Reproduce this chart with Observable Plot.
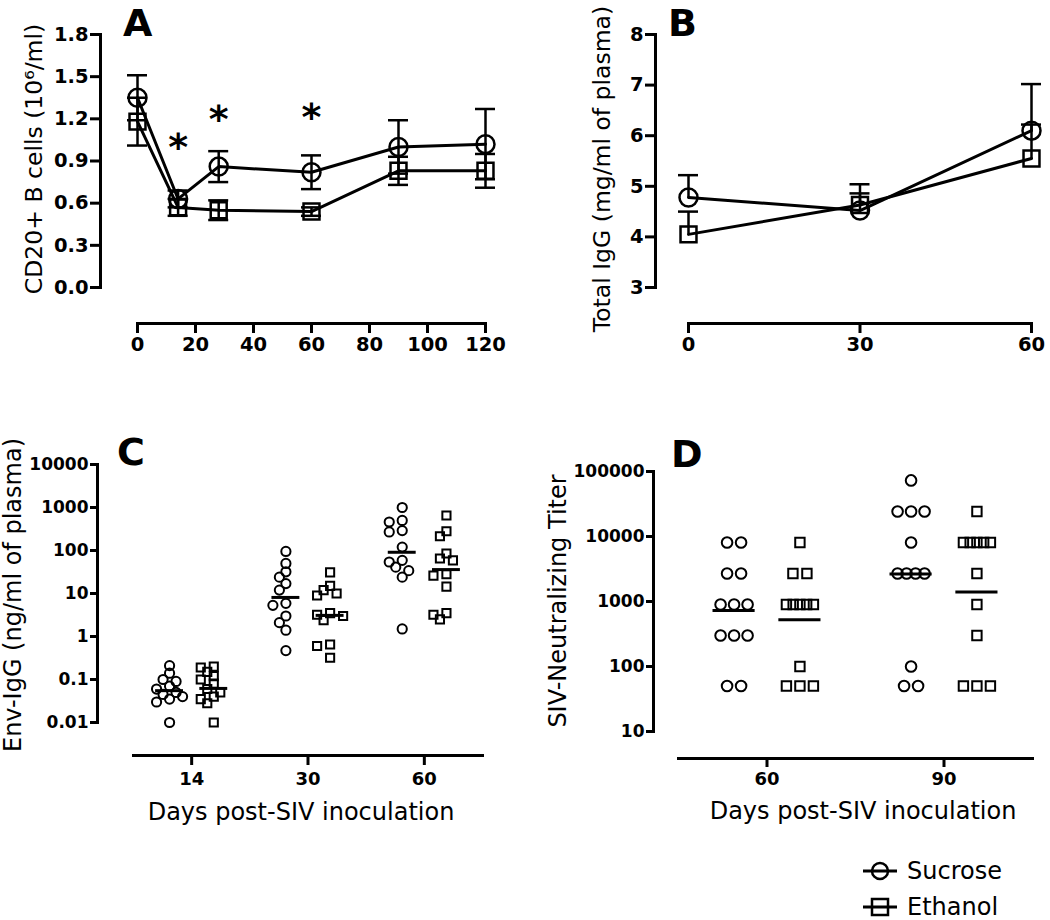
<!DOCTYPE html>
<html><head><meta charset="utf-8">
<script src="https://cdn.jsdelivr.net/npm/d3@7"></script>
<script src="https://cdn.jsdelivr.net/npm/@observablehq/plot@0.6"></script>
<style>
body{margin:0;background:#fff;}
#page{position:relative;width:1050px;height:920px;overflow:hidden;font-family:"DejaVu Sans",sans-serif;background:#fff;}
.panel{position:absolute;}
#overlay{position:absolute;left:0;top:0;pointer-events:none;}
</style></head><body>
<div id="page">
  <div class="panel" id="pA" style="left:0;top:0;width:520px;height:370px"></div>
  <div class="panel" id="pB" style="left:520px;top:0;width:530px;height:370px"></div>
  <div class="panel" id="pC" style="left:0;top:370px;width:520px;height:470px"></div>
  <div class="panel" id="pD" style="left:520px;top:370px;width:530px;height:470px"></div>
  <svg id="overlay" width="1050" height="920" font-family="DejaVu Sans, sans-serif">
    <g font-weight="bold">
      <text x="123" y="36" font-size="38">A</text>
      <text x="668" y="36" font-size="38">B</text>
      <text x="117" y="465" font-size="38">C</text>
      <text x="671" y="467" font-size="38">D</text>
    </g>
    <g stroke="#000" fill="none">
      <line x1="863" x2="897" y1="871" y2="871" stroke-width="3"/>
      <circle cx="880" cy="871" r="8" stroke-width="2.5"/>
      <line x1="863" x2="897" y1="907" y2="907" stroke-width="3"/>
      <rect x="872" y="899" width="16" height="16" stroke-width="2.5"/>
    </g>
    <g font-size="24">
      <text x="907" y="879">Sucrose</text>
      <text x="907" y="915">Ethanol</text>
    </g>
  </svg>
</div>
<script>
// ---------- Panel A: CD20+ B cells ----------
const groups = ["Sucrose", "Ethanol"];
const daysA = [0, 14, 28, 60, 90, 120];
const sucroseA = [1.35, 0.63, 0.86, 0.82, 1.00, 1.02];
const sucroseSemA = [0.16, 0.06, 0.11, 0.12, 0.19, 0.25];
const ethanolA = [1.18, 0.57, 0.55, 0.54, 0.83, 0.83];
const ethanolSemA = [0.17, 0.06, 0.07, 0.03, 0.10, 0.12];
const yTicksA = [0, 0.3, 0.6, 0.9, 1.2, 1.5, 1.8];
const xTicksA = [0, 20, 40, 60, 80, 100, 120];
const asteriskDaysA = [14, 28, 60];
const asteriskYA = [1.03, 1.23, 1.245];
const yLabelA = "CD20+ B cells (10\u2076/ml)";

// ---------- Panel B: Total IgG ----------
const daysB = [0, 30, 60];
const sucroseB = [4.78, 4.52, 6.10];
const sucroseSemB = [0.44, 0.52, 0.92];
const ethanolB = [4.05, 4.63, 5.55];
const ethanolSemB = [0.45, 0.23, 0.67];
const yTicksB = [3, 4, 5, 6, 7, 8];
const xTicksB = [0, 30, 60];
const yLabelB = "Total IgG (mg/ml of plasma)";

// ---------- Panel C: Env-IgG ----------
const dayLabelsC = ["14", "30", "60"];
const envSucrose14 = [0.21, 0.14, 0.10, 0.09, 0.07, 0.06, 0.05, 0.045, 0.04, 0.035, 0.03, 0.01];
const envEthanol14 = [0.20, 0.19, 0.15, 0.12, 0.10, 0.08, 0.06, 0.05, 0.04, 0.035, 0.028, 0.01];
const envSucrose30 = [95, 50, 32, 24, 17, 12, 5.9, 5.3, 3.0, 2.1, 1.4, 0.47];
const envEthanol30 = [31, 15, 12, 10, 9, 3.5, 3.2, 3.0, 2.4, 0.65, 0.6, 0.32];
const envSucrose60 = [1000, 500, 460, 290, 270, 120, 59, 54, 41, 34, 24, 1.5];
const envEthanol60 = [650, 280, 215, 85, 65, 59, 28, 26, 14.5, 3.5, 3.2, 2.5];
const envMeanSucrose = [0.055, 8.1, 91];
const envMeanEthanol = [0.062, 3.1, 36];
const yTicksC = [0.01, 0.1, 1, 10, 100, 1000, 10000];
const yLabelC = "Env-IgG (ng/ml of plasma)";
const xLabel = "Days post-SIV inoculation";

// ---------- Panel D: SIV-neutralizing titer ----------
const dayLabelsD = ["60", "90"];
const titerSucrose60 = [8100, 8100, 2700, 2700, 900, 900, 900, 300, 300, 300, 50, 50];
const titerEthanol60 = [8100, 2700, 2700, 900, 900, 900, 900, 900, 100, 50, 50, 50];
const titerSucrose90 = [72900, 24300, 24300, 24300, 8100, 2700, 2700, 2700, 2700, 100, 50, 50];
const titerEthanol90 = [24300, 8100, 8100, 8100, 8100, 8100, 2700, 900, 300, 50, 50, 50];
const titerMeanSucrose = [730, 2640];
const titerMeanEthanol = [525, 1400];
const yTicksD = [10, 100, 1000, 10000, 100000];
const yLabelD = "SIV-Neutralizing Titer";

// ---------- helpers ----------
const FONT = "DejaVu Sans, sans-serif";
const style = (fs) => ({fontFamily: FONT, fontSize: fs + "px", fontWeight: "bold", background: "transparent", maxWidth: "none", overflow: "visible", color: "#000"});
const symbolScale = {domain: groups, range: ["circle", "square"]};

function longSeries(days, s, sSem, e, eSem) {
  const out = [];
  days.forEach((d, i) => {
    out.push({day: d, group: "Sucrose", mean: s[i], sem: sSem[i]});
    out.push({day: d, group: "Ethanol", mean: e[i], sem: eSem[i]});
  });
  return out;
}

// greedy horizontal spread (layout only) for scatter columns, in pixels
function spreadDistinct(vals, ypx, minDist, step) {
  const placed = [];
  const cands = [0, -step, step, -2 * step, 2 * step];
  return vals.map(v => {
    const y = ypx(v);
    let best = 0, bestD = -1;
    for (const c of cands) {
      let dmin = Infinity;
      for (const p of placed) dmin = Math.min(dmin, Math.hypot(p.x - c, p.y - y));
      if (dmin >= minDist) { best = c; bestD = dmin; break; }
      if (dmin > bestD) { bestD = dmin; best = c; }
    }
    placed.push({x: best, y});
    return best;
  });
}
function spreadTies(vals, spacing, width) {
  const counts = d3.rollup(vals, v => v.length, v => v);
  const seen = new Map();
  return vals.map(v => {
    const n = counts.get(v);
    const j = seen.get(v) || 0; seen.set(v, j + 1);
    const s = n > 1 ? Math.min(spacing, width / (n - 1)) : 0;
    return (j - (n - 1) / 2) * s;
  });
}
const yLab = (label, dx, dy, fs) => Plot.text([label], {text: d => d, frameAnchor: "left", textAnchor: "middle", lineAnchor: "middle", rotate: -90, dx, dy, fontSize: fs, fontWeight: "normal"});
const xLab = (label, dx, dy, fs) => Plot.text([label], {text: d => d, frameAnchor: "bottom", textAnchor: "middle", lineAnchor: "middle", dx, dy, fontSize: fs, fontWeight: "normal"});

// ---------- Panel A ----------
const longA = longSeries(daysA, sucroseA, sucroseSemA, ethanolA, ethanolSemA);
document.getElementById("pA").append(Plot.plot({
  width: 520, height: 370, marginLeft: 100, marginRight: 35, marginTop: 34, marginBottom: 47,
  style: style(19.5),
  x: {domain: [0, 120], insetLeft: 37},
  y: {domain: [0, 1.8], insetBottom: 36},
  symbol: symbolScale,
  marks: [
    Plot.frame({anchor: "left", insetBottom: 36, strokeWidth: 3}),
    Plot.frame({anchor: "bottom", insetLeft: 37, strokeWidth: 3}),
    Plot.axisY(yTicksA, {tickSize: 10, tickPadding: 2, tickFormat: d3.format(".1f"), strokeWidth: 3, label: null}),
    Plot.axisX(xTicksA, {tickSize: 10, tickPadding: 4, strokeWidth: 3, label: null}),
    Plot.ruleX(longA, {x: "day", y1: d => d.mean - d.sem, y2: d => d.mean + d.sem, strokeWidth: 2.5}),
    Plot.ruleY(longA, {x1: "day", x2: "day", y: d => d.mean + d.sem, insetLeft: -10, insetRight: -10, strokeWidth: 2.5}),
    Plot.ruleY(longA, {x1: "day", x2: "day", y: d => d.mean - d.sem, insetLeft: -10, insetRight: -10, strokeWidth: 2.5}),
    Plot.line(longA, {x: "day", y: "mean", z: "group", strokeWidth: 3}),
    Plot.dot(longA, {x: "day", y: "mean", symbol: "group", r: 9, stroke: "#000", strokeWidth: 2.5, fill: "none"}),
    Plot.text(asteriskDaysA, {x: d => d, y: (d, i) => asteriskYA[i], text: () => "*", fontSize: 38, dy: 5}),
    yLab(yLabelA, -66, -20, 23.5)
  ]
}));

// ---------- Panel B ----------
const longB = longSeries(daysB, sucroseB, sucroseSemB, ethanolB, ethanolSemB);
document.getElementById("pB").append(Plot.plot({
  width: 530, height: 370, marginLeft: 135, marginRight: 19, marginTop: 34, marginBottom: 47,
  style: style(19.5),
  x: {domain: [0, 60], insetLeft: 33},
  y: {domain: [3, 8], insetBottom: 36},
  symbol: symbolScale,
  marks: [
    Plot.frame({anchor: "left", insetBottom: 36, strokeWidth: 3}),
    Plot.frame({anchor: "bottom", insetLeft: 33, strokeWidth: 3}),
    Plot.axisY(yTicksB, {tickSize: 10, tickPadding: 2, tickFormat: d => String(d), strokeWidth: 3, label: null}),
    Plot.axisX(xTicksB, {tickSize: 10, tickPadding: 4, strokeWidth: 3, label: null}),
    Plot.ruleX(longB, {x: "day", y1: "mean", y2: d => d.mean + d.sem, strokeWidth: 2.5}),
    Plot.ruleY(longB, {x1: "day", x2: "day", y: d => d.mean + d.sem, insetLeft: -10, insetRight: -10, strokeWidth: 2.5}),
    Plot.line(longB, {x: "day", y: "mean", z: "group", strokeWidth: 3}),
    Plot.dot(longB, {x: "day", y: "mean", symbol: "group", r: 9, stroke: "#000", strokeWidth: 2.5, fill: "none"}),
    yLab(yLabelB, -53, -10, 23.5)
  ]
}));

// ---------- Panel C ----------
const pxPerUnitC = (482 - 133) / 3;
const yPxC = d3.scaleLog().domain([0.01, 10000]).range([352, 94]);
const envSeries = [
  [envSucrose14, envEthanol14], [envSucrose30, envEthanol30], [envSucrose60, envEthanol60]
];
const pointsC = [];
envSeries.forEach((pair, i) => {
  pair.forEach((vals, g) => {
    const offs = spreadDistinct(vals, yPxC, 7.5, 6.5);
    vals.forEach((v, k) => pointsC.push({
      x: i + (g === 0 ? -0.19 : 0.19) + offs[k] / pxPerUnitC, value: v, group: groups[g]
    }));
  });
});
const meansC = [];
[envMeanSucrose, envMeanEthanol].forEach((m, g) => m.forEach((v, i) => meansC.push({slot: i + (g === 0 ? -0.19 : 0.19), mean: v})));
document.getElementById("pC").append(Plot.plot({
  width: 520, height: 470, marginLeft: 97, marginRight: 38, marginTop: 94, marginBottom: 85,
  style: style(17),
  x: {domain: [-0.5, 2.5], insetLeft: 36},
  y: {type: "log", domain: [0.01, 10000], insetBottom: 33},
  symbol: symbolScale,
  marks: [
    Plot.frame({anchor: "left", insetBottom: 33, strokeWidth: 3}),
    Plot.frame({anchor: "bottom", insetLeft: 36, strokeWidth: 3}),
    Plot.axisY(yTicksC, {tickSize: 7, tickPadding: 2, tickFormat: d => String(d), strokeWidth: 3, fontSize: 17, label: null}),
    Plot.axisX([0, 1, 2], {tickSize: 10, tickPadding: 7, tickFormat: i => dayLabelsC[i], strokeWidth: 3, fontSize: 18, label: null}),
    Plot.dot(pointsC, {x: "x", y: "value", symbol: "group", r: 4.6, stroke: "#000", strokeWidth: 2, fill: "none"}),
    Plot.ruleY(meansC, {y: "mean", x1: d => d.slot - 0.12, x2: d => d.slot + 0.12, strokeWidth: 3}),
    yLab(yLabelC, -84, -15, 24),
    xLab(xLabel, 11, 57, 24)
  ]
}));

// ---------- Panel D ----------
const pxPerUnitD = (512 - 158) / 2;
const titerSeries = [[titerSucrose60, titerEthanol60], [titerSucrose90, titerEthanol90]];
const pointsD = [];
titerSeries.forEach((pair, i) => {
  pair.forEach((vals, g) => {
    const offs = spreadTies(vals, 14, 27);
    vals.forEach((v, k) => pointsD.push({
      x: i + (g === 0 ? -0.186 : 0.186) + offs[k] / pxPerUnitD, value: v, group: groups[g]
    }));
  });
});
const meansD = [];
[titerMeanSucrose, titerMeanEthanol].forEach((m, g) => m.forEach((v, i) => meansD.push({slot: i + (g === 0 ? -0.186 : 0.186), mean: v})));
document.getElementById("pD").append(Plot.plot({
  width: 530, height: 470, marginLeft: 133, marginRight: 18, marginTop: 101, marginBottom: 82,
  style: style(17),
  x: {domain: [-0.5, 1.5], insetLeft: 25},
  y: {type: "log", domain: [10, 100000], insetBottom: 27},
  symbol: symbolScale,
  marks: [
    Plot.frame({anchor: "left", insetBottom: 27, strokeWidth: 3}),
    Plot.frame({anchor: "bottom", insetLeft: 25, strokeWidth: 3}),
    Plot.axisY(yTicksD, {tickSize: 7, tickPadding: 2, tickFormat: d => String(d), strokeWidth: 3, fontSize: 17, label: null}),
    Plot.axisX([0, 1], {tickSize: 9, tickPadding: 5, tickFormat: i => dayLabelsD[i], strokeWidth: 3, fontSize: 18, label: null}),
    Plot.dot(pointsD, {x: "x", y: "value", symbol: "group", r: 5.3, stroke: "#000", strokeWidth: 2, fill: "none"}),
    Plot.ruleY(meansD, {y: "mean", x1: d => d.slot - 0.119, x2: d => d.slot + 0.119, strokeWidth: 3}),
    yLab(yLabelD, -95, -14, 24),
    xLab(xLabel, 20, 53, 24)
  ]
}));
</script>
</body></html>
